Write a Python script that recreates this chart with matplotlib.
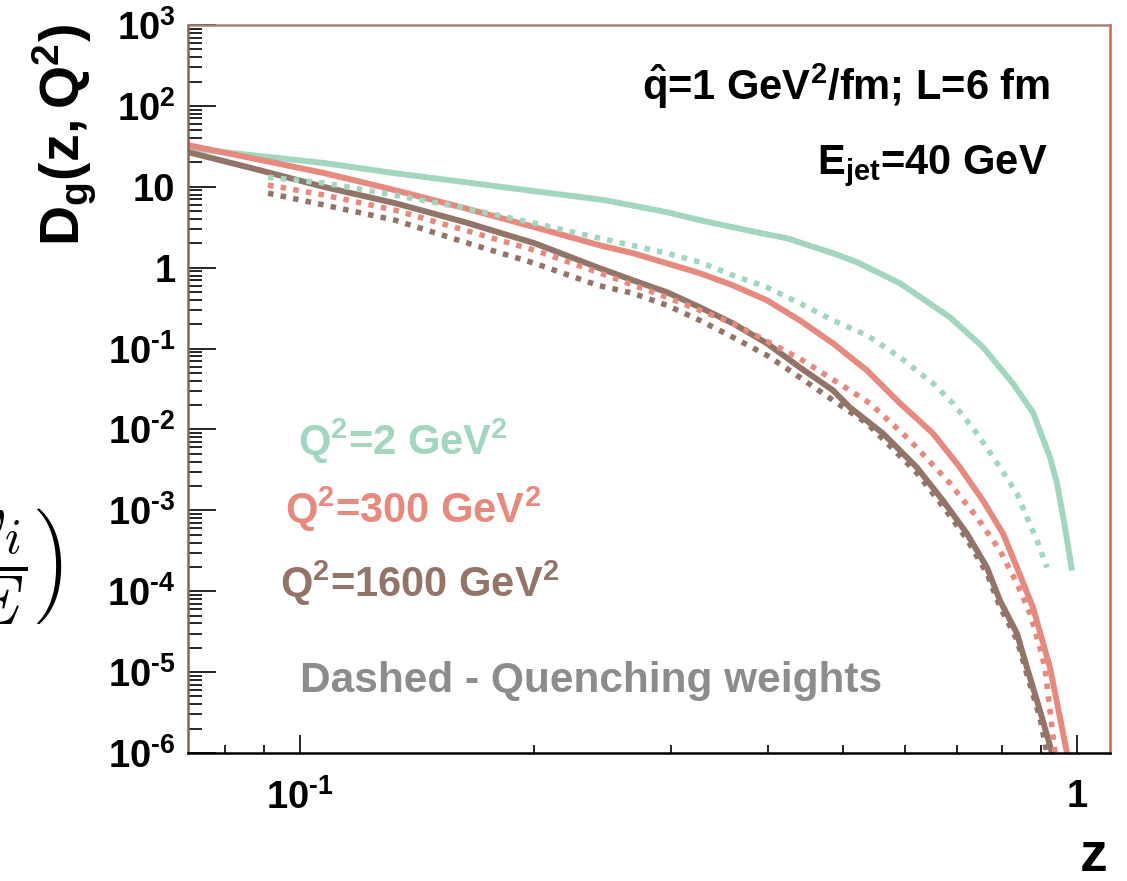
import numpy as np
import matplotlib
matplotlib.use('Agg')
import matplotlib.pyplot as plt
from matplotlib.ticker import LogLocator, FuncFormatter, NullFormatter

plt.rcParams['font.family'] = ['Liberation Sans', 'DejaVu Sans']
plt.rcParams['font.weight'] = 'bold'
plt.rcParams['mathtext.fontset'] = 'custom'
plt.rcParams['mathtext.rm'] = 'Liberation Sans:bold'
plt.rcParams['mathtext.bf'] = 'Liberation Sans:bold'
plt.rcParams['mathtext.it'] = 'Liberation Sans:bold'
plt.rcParams['mathtext.default'] = 'bf'

# D_g(z, Q^2)
z_q2_2 = [0.0718, 0.0867, 0.1077, 0.1326, 0.1631, 0.2006, 0.2469, 0.2968, 0.3271,
          0.3990, 0.4233, 0.4853, 0.5209, 0.5920, 0.6865, 0.7568, 0.8272, 0.8779,
          0.9232, 0.9425, 0.9652, 0.9853]
d_q2_2 = [30.0, 24.6, 19.6, 14.7, 11.4, 8.82, 6.83, 4.85, 3.86,
          2.58, 2.31, 1.51, 1.17, 0.641, 0.243, 0.104, 0.037, 0.0162,
          0.0045, 0.00215, 6.1e-4, 1.8e-4]

z_q2_300 = [0.0718, 0.0867, 0.1077, 0.1326, 0.1631, 0.2006, 0.2432, 0.2683, 0.2968,
            0.3271, 0.3607, 0.3990, 0.4399, 0.4853, 0.5367, 0.5920, 0.6527, 0.7070,
            0.7568, 0.8031, 0.8372, 0.8779, 0.9232, 0.9509, 0.9708]
d_q2_300 = [32.7, 22.6, 14.7, 9.08, 5.43, 3.16, 1.89, 1.51, 1.13,
            0.853, 0.605, 0.395, 0.223, 0.116, 0.0537, 0.021, 0.00892, 0.00339,
            0.00132, 5.16e-4, 1.96e-4, 6.27e-5, 1.13e-5, 2.73e-6, 1.0e-6]

z_q2_1600 = [0.0718, 0.0867, 0.1077, 0.1326, 0.1631, 0.2006, 0.2432, 0.2683, 0.2968,
             0.3271, 0.3607, 0.3990, 0.4399, 0.4853, 0.5103, 0.5628, 0.6222, 0.6722,
             0.7217, 0.7659, 0.7960, 0.8372, 0.8624, 0.8962, 0.9287]
d_q2_1600 = [26.8, 17.0, 9.89, 6.27, 3.65, 2.00, 0.983, 0.698, 0.496,
             0.324, 0.205, 0.116, 0.0585, 0.0304, 0.0187, 0.00892, 0.00339, 0.00132,
             5.16e-4, 1.96e-4, 7.65e-5, 2.99e-5, 1.13e-5, 3.33e-6, 1.0e-6]

# quenching weights (dashed)
zqw_2 = [0.0910, 0.1077, 0.1326, 0.1631, 0.2006, 0.2432, 0.2968, 0.3271, 0.3607,
         0.3990, 0.4399, 0.4853, 0.5367, 0.5920, 0.6527, 0.6925, 0.7436, 0.7960,
         0.8372, 0.8624, 0.8882, 0.9149]
dqw_2 = [13.1, 11.1, 7.87, 5.43, 3.54, 2.31, 1.51, 1.17, 0.805,
         0.572, 0.362, 0.223, 0.146, 0.0778, 0.0371, 0.021, 0.00892, 0.00339,
         0.00161, 8.15e-4, 4.23e-4, 1.96e-4]

zqw_300 = [0.0910, 0.1077, 0.1326, 0.1631, 0.2006, 0.2417, 0.2968, 0.3607, 0.4399,
           0.5103, 0.5415, 0.6098, 0.6865, 0.7436, 0.7960, 0.8372, 0.8701, 0.8962,
           0.9095, 0.9370]
dqw_300 = [10.5, 7.87, 5.13, 2.90, 1.64, 0.877, 0.430, 0.205, 0.075,
           0.0304, 0.021, 0.00731, 0.00215, 8.15e-4, 3.18e-4, 1.24e-4, 5.28e-5, 2.0e-5,
           1.13e-5, 1.0e-6]

zqw_1600 = [0.0910, 0.1077, 0.1326, 0.1631, 0.2006, 0.2417, 0.2683, 0.2968, 0.3271,
            0.3607, 0.3990, 0.4399, 0.4853, 0.5367, 0.5628, 0.6222, 0.6722, 0.7217,
            0.7659, 0.7960, 0.8372, 0.8624, 0.8962, 0.9149]
dqw_1600 = [8.33, 5.92, 3.86, 2.06, 1.13, 0.605, 0.482, 0.342, 0.223,
            0.138, 0.0824, 0.044, 0.0229, 0.0119, 0.0076, 0.0029, 0.00112, 4.4e-4,
            1.65e-4, 6.4e-5, 2.5e-5, 9.3e-6, 2.7e-6, 1.0e-6]

green = '#a3d6bf'
salmon = '#e6897f'
brown = '#937468'
grey = '#8c8c8c'

W, H = 1127, 881
fig = plt.figure(figsize=(W / 100, H / 100), dpi=100)
ax = fig.add_axes([188 / W, 128 / H, 922 / W, 728 / H])
ax.set_xscale('log')
ax.set_yscale('log')

ax.plot(z_q2_2, d_q2_2, color=green, lw=4.3, solid_capstyle='butt')
ax.plot(z_q2_300, d_q2_300, color=salmon, lw=4.3, solid_capstyle='butt')
ax.plot(z_q2_1600, d_q2_1600, color=brown, lw=4.3, solid_capstyle='butt')
dots = (0, (1, 1.3))
ax.plot(zqw_2, dqw_2, color=green, lw=4, ls=dots, dash_capstyle='butt')
ax.plot(zqw_300, dqw_300, color=salmon, lw=4, ls=dots, dash_capstyle='butt')
ax.plot(zqw_1600, dqw_1600, color=brown, lw=4, ls=dots, dash_capstyle='butt')

ax.set_xlim(0.07178, 1.1027)
ax.set_ylim(1e-6, 1e3)


def logfmt(v, pos):
    e = int(round(np.log10(v)))
    if e == 0:
        return '1'
    if e == 1:
        return '10'
    if e < 0:
        return '$10^{\u2010%d}$' % (-e)
    return r'$10^{%d}$' % e


ax.yaxis.set_major_locator(LogLocator(base=10, numticks=20))
ax.yaxis.set_minor_locator(LogLocator(base=10, subs=np.arange(2, 10), numticks=20))
ax.yaxis.set_major_formatter(FuncFormatter(logfmt))
ax.yaxis.set_minor_formatter(NullFormatter())
ax.xaxis.set_major_locator(LogLocator(base=10, numticks=20))
ax.xaxis.set_minor_locator(LogLocator(base=10, subs=np.arange(2, 10), numticks=20))
ax.xaxis.set_major_formatter(FuncFormatter(logfmt))
ax.xaxis.set_minor_formatter(NullFormatter())

ax.tick_params(axis='y', which='major', direction='in', length=20, width=1.2,
               labelsize=27.5, pad=9)
ax.tick_params(axis='y', which='minor', direction='in', length=10, width=1.2)
ax.tick_params(axis='x', which='major', direction='in', length=13, width=1.2,
               labelsize=27.5, pad=19)
ax.tick_params(axis='x', which='minor', direction='in', length=6, width=1.2)

ax.spines['top'].set_color('#a08478')
ax.spines['right'].set_color('#e2603a')
ax.spines['bottom'].set_color('black')
ax.spines['left'].set_color('#8a6258')
for s in ax.spines.values():
    s.set_linewidth(1.8)

# axis titles
fig.text(64 / W, 1 - 135 / H, r'$D_{g}(z,Q^{2})$', rotation=90, fontsize=40,
         ha='center', va='center')
fig.text(1094 / W, 1 - 871 / H, 'z', fontsize=40, ha='center', va='baseline')

# annotations
fig.text(1050 / W, 1 - 100 / H, r'$\hat{q}$=1 GeV$^{2}$/fm; L=6 fm', fontsize=30,
         ha='right', va='baseline')
fig.text(1048 / W, 1 - 174 / H, r'E$_{jet}$=40 GeV', fontsize=30,
         ha='right', va='baseline')
fig.text(298 / W, 1 - 455 / H, r'Q$^{2}$=2 GeV$^{2}$', fontsize=30, color=green,
         va='baseline')
fig.text(285 / W, 1 - 523 / H, r'Q$^{2}$=300 GeV$^{2}$', fontsize=30, color=salmon,
         va='baseline')
fig.text(280 / W, 1 - 597 / H, r'Q$^{2}$=1600 GeV$^{2}$', fontsize=30, color=brown,
         va='baseline')
fig.text(300 / W, 1 - 692 / H, 'Dashed - Quenching weights', fontsize=30.5, color=grey,
         va='baseline')

# piece of a neighbouring formula, cut at the left edge
fig.text(63 / W, 1 - 566 / H, r'$\left(\dfrac{\mathit{\omega_i}}{\mathit{E}}\right)$',
         math_fontfamily='cm', fontsize=50, fontweight='normal', ha='right', va='center')

fig.savefig('out.png', dpi=100)
